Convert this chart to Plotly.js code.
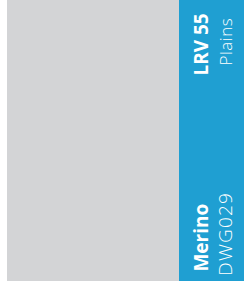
<!DOCTYPE html>
<html><head><meta charset="utf-8">
<script src="https://cdn.plot.ly/plotly-3.0.1.min.js"></script>
<style>html,body{margin:0;padding:0;background:#fff}#c{width:244px;height:286px}
g.annotation[data-index="1"] text{letter-spacing:0.5px}
g.annotation[data-index="3"] text{letter-spacing:1.2px}
</style>
</head><body><div id="c"></div>
<script>
const swatchNames = ["Merino"];
const swatchCodes = ["DWG029"];
const lrvValues = [55];
const paletteNames = ["Plains"];
const swatchColors = ["#d3d4d6"];
const stripColors = ["#1f9fd2"];

const shapes = [
  {type:'rect', xref:'x', yref:'y', x0:7, x1:179, y0:0, y1:281, fillcolor:swatchColors[0], line:{width:0}, layer:'below'},
  {type:'rect', xref:'x', yref:'y', x0:179, x1:244, y0:0, y1:281, fillcolor:stripColors[0], line:{width:0}, layer:'below'}
];
const bold = {family:'"Open Sans", sans-serif', size:19, color:'#ffffff', weight:700};
const lightS = {family:'"Open Sans", sans-serif', size:17, color:'#ffffff', weight:300};
const lightL = {family:'"Open Sans", sans-serif', size:19, color:'#ffffff', weight:300};
const annotations = [
  {x:200.6, y:78, text:'LRV ' + lrvValues[0], textangle:-90, font:bold, showarrow:false, xanchor:'center', yanchor:'bottom', xref:'x', yref:'y'},
  {x:225.5, y:66, text:paletteNames[0], textangle:-90, font:lightS, showarrow:false, xanchor:'center', yanchor:'bottom', xref:'x', yref:'y'},
  {x:200.6, y:274, text:swatchNames[0], textangle:-90, font:bold, showarrow:false, xanchor:'center', yanchor:'bottom', xref:'x', yref:'y'},
  {x:224.6, y:274, text:swatchCodes[0], textangle:-90, font:lightL, showarrow:false, xanchor:'center', yanchor:'bottom', xref:'x', yref:'y'}
];
Plotly.newPlot('c', [], {
  width:244, height:286, margin:{l:0,r:0,t:0,b:0},
  paper_bgcolor:'#ffffff', plot_bgcolor:'#ffffff',
  xaxis:{range:[0,244], visible:false, fixedrange:true},
  yaxis:{range:[286,0], visible:false, fixedrange:true},
  shapes:shapes, annotations:annotations, showlegend:false
}, {displayModeBar:false, staticPlot:true});
</script></body></html>
